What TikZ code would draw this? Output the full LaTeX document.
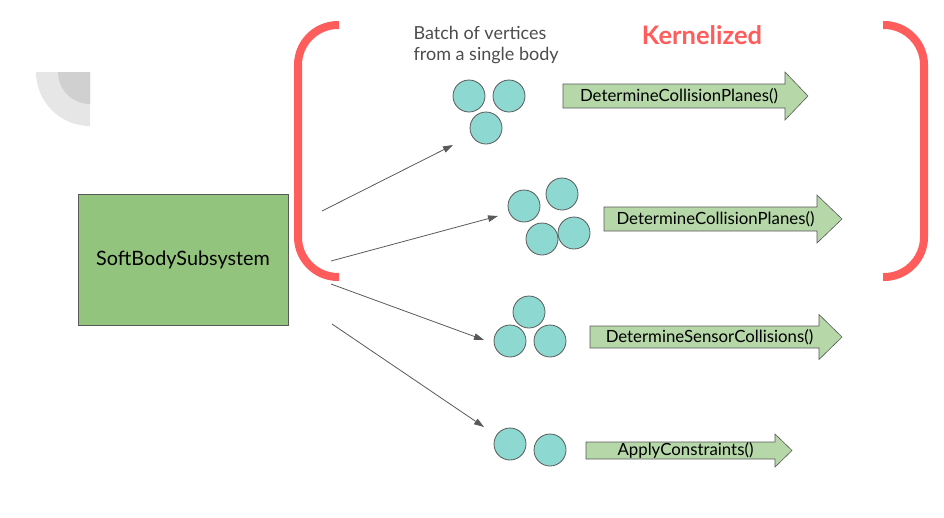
\documentclass[tikz,border=0pt]{standalone}
\usepackage{fontspec}
\setmainfont{Lato}
\usepackage{tikz}
\usetikzlibrary{arrows.meta}
\definecolor{bracketred}{HTML}{FF5C5C}
\definecolor{boxgreen}{HTML}{93C47D}
\definecolor{callgreen}{HTML}{B6D7A8}
\definecolor{vertexteal}{HTML}{8DD8D0}
\definecolor{quarterlight}{HTML}{E6E6E6}
\definecolor{quarterdark}{HTML}{D0D0D0}
\definecolor{edgegray}{HTML}{595959}

% block arrow: name, x start, x head base, x tip, y, half body, half head, text
\newcommand{\callarrow}[8]{%
  \draw[callshape] (#2,#5-#6) -- (#3,#5-#6) -- (#3,#5-#7) -- (#4,#5)
    -- (#3,#5+#7) -- (#3,#5+#6) -- (#2,#5+#6) -- cycle;
  \node[calltext] (#1) at ({(#2+#3)/2+5},#5) {#8};}

\begin{document}
\begin{tikzpicture}[x=1pt,y=-1pt,
  subsystem/.style={draw=edgegray,fill=boxgreen,line width=0.8pt,minimum width=210pt,minimum height=131pt,font=\fontsize{19.8}{23}\selectfont},
  vertex/.style={circle,draw=edgegray,fill=vertexteal,line width=0.8pt,minimum size=32pt,inner sep=0pt},
  callshape/.style={draw=edgegray,fill=callgreen,line width=0.6pt},
  calltext/.style={inner sep=0pt,font=\fontsize{16.8}{19}\selectfont},
  link/.style={draw=edgegray,line width=0.8pt,-{Triangle[length=10pt,width=6.5pt]}},
  bracket/.style={draw=bracketred,line width=8pt,rounded corners=40pt}]
\useasboundingbox (0,0) rectangle (944,517);

% grey quarter discs
\fill[quarterlight] (90,72) -- (36,72) arc[start angle=180,end angle=90,radius=54] -- cycle;
\fill[quarterdark] (90,72) -- (58,72) arc[start angle=180,end angle=90,radius=32] -- cycle;

% kernel brackets
\draw[bracket] (339,25) -- (298,25) -- (298,277) -- (339,277);
\draw[bracket] (883,25) -- (924,25) -- (924,277) -- (883,277);

\node[anchor=west,align=left,text=black!70,font=\fontsize{18}{21}\selectfont] (batch) at (410,45) {Batch of vertices\\from a single body};
\node[text=bracketred,font=\fontsize{25.5}{28}\selectfont\bfseries] (kernelized) at (702,35) {Kernelized};

\node[subsystem] (subsystem) at (183,259.5) {\raisebox{-2pt}{SoftBodySubsystem}};

% vertex batches
\node[vertex] (b1a) at (469,96) {};
\node[vertex] (b1b) at (509,96) {};
\node[vertex] (b1c) at (486,128) {};

\node[vertex] (b2a) at (524,206) {};
\node[vertex] (b2b) at (562,194) {};
\node[vertex] (b2c) at (542,239) {};
\node[vertex] (b2d) at (574,233) {};

\node[vertex] (b3a) at (529,312) {};
\node[vertex] (b3b) at (510,341) {};
\node[vertex] (b3c) at (550,341) {};

\node[vertex] (b4a) at (510,444) {};
\node[vertex] (b4b) at (550,450) {};

% kernel calls
\callarrow{call1}{563}{785}{808}{96}{12}{24}{DetermineCollisionPlanes()}
\callarrow{call2}{604}{817}{842}{219}{12}{24}{DetermineCollisionPlanes()}
\callarrow{call3}{590}{819}{842}{337}{11}{22.5}{DetermineSensorCollisions()}
\callarrow{call4}{586}{775}{792}{450.5}{8.5}{16.5}{ApplyConstraints()}

% dispatch lines
\coordinate (s1) at (322,211);
\coordinate (s2) at (331,261);
\coordinate (s3) at (331,284);
\coordinate (s4) at (332,324);
\coordinate (e1) at (453,145);
\coordinate (e2) at (498,216);
\coordinate (e3) at (484,340);
\coordinate (e4) at (484,427);
\draw[link] (s1) -- (e1);
\draw[link] (s2) -- (e2);
\draw[link] (s3) -- (e3);
\draw[link] (s4) -- (e4);
\end{tikzpicture}
\end{document}
